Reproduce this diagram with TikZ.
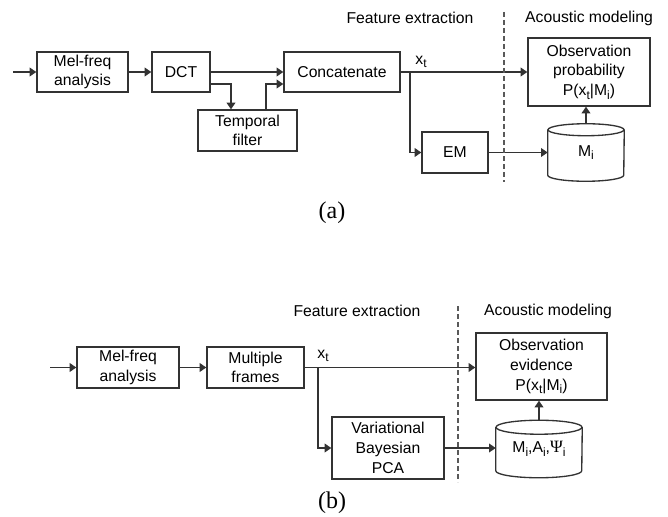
\documentclass[tikz,border=0pt]{standalone}
\usepackage{fontspec}
\setmainfont{Liberation Sans}
\newfontfamily\capfont{Liberation Serif}
\usetikzlibrary{arrows.meta,calc}
\newcommand\sbs[1]{\raisebox{-0.45ex}{\fontsize{9pt}{9pt}\selectfont #1}}
\def\u{0.75pt}
\tikzset{
  lin/.style={draw=black!80, line width=1pt},
  arr/.style={lin, -{Triangle[length=5pt,width=6.5pt]}},
  box/.style={lin, rectangle, inner sep=0pt, align=center, font=\fontsize{11.8pt}{14.8pt}\selectfont},
  plain/.style={inner sep=0pt, font=\fontsize{11.8pt}{14.8pt}\selectfont, align=center},
  captext/.style={inner sep=0pt, font=\capfont\fontsize{18pt}{18pt}\selectfont},
  sep/.style={draw=black!65, line width=0.8pt, dash pattern=on 3.5pt off 2.5pt}
}
\begin{document}
\begin{tikzpicture}[x=0.75pt,y=-0.75pt]
\useasboundingbox (0,0) rectangle (668,517);
% ---------- (a) ----------
\node[box, minimum width=91*\u, minimum height=40*\u] (mela) at (82.5,72) {Mel-freq\\analysis};
\node[box, minimum width=58*\u, minimum height=40*\u] (dct) at (181,72) {DCT};
\node[box, minimum width=116*\u, minimum height=40*\u] (conc) at (342,72) {Concatenate};
\node[box, minimum width=99*\u, minimum height=41*\u] (temp) at (247.5,130.5) {Temporal\\filter};
\node[box, minimum width=122*\u, minimum height=68*\u] (obsa) at (589,72) {Observation\\probability\\P(x\sbs{t}|M\sbs{i})};
\node[box, minimum width=66*\u, minimum height=41*\u] (em) at (455,152.5) {EM};
\node[plain, minimum width=76*\u, minimum height=57*\u] (cyla) at (586,152.5) {M\sbs{i}};
\draw[lin] ([yshift=-6*\u]cyla.north west) -- ([yshift=6*\u]cyla.south west)
  arc[start angle=180, end angle=360, x radius=38*\u, y radius=6*\u]
  -- ([yshift=-6*\u]cyla.north east);
\draw[lin] ([yshift=-6*\u]cyla.north) ellipse[x radius=38*\u, y radius=6*\u];
\coordinate (ina) at (13,72);
\coordinate (ba) at (410,72);
\draw[arr] (ina) -- (mela.west);
\draw[arr] (mela.east) -- (dct.west);
\draw[arr] (dct.east) -- (conc.west);
\draw[arr] ([yshift=-12*\u]dct.east) -| ([xshift=-16.5*\u]temp.north);
\draw[arr] ([xshift=18.5*\u]temp.north) |- ([yshift=-12*\u]conc.west);
\draw[arr] (conc.east) -- (obsa.west);
\node[plain] (xta) at (421,62) {x\sbs{t}};
\draw[arr] (ba) |- (em.west);
\draw[arr] (em.east) -- (cyla.west);
\draw[arr] (cyla.north) -- (cyla.north |- obsa.south);
\coordinate (sa1) at (504,12);
\coordinate (sa2) at (504,182);
\draw[sep] (sa1) -- (sa2);
\node[plain] (fea) at (410,18) {Feature extraction};
\node[plain] (aca) at (589,18) {Acoustic modeling};
\node[captext] (capa) at (332,213) {(a)};
% ---------- (b) ----------
\node[box, minimum width=102*\u, minimum height=41*\u] (melb) at (128,367.5) {Mel-freq\\analysis};
\node[box, minimum width=97*\u, minimum height=41*\u] (mult) at (255.5,367.5) {Multiple\\frames};
\node[box, minimum width=131*\u, minimum height=67*\u] (obsb) at (541.5,366.5) {Observation\\evidence\\P(x\sbs{t}|M\sbs{i})};
\node[box, minimum width=112*\u, minimum height=62*\u] (vb) at (388,448) {Variational\\Bayesian\\PCA};
\node[plain, minimum width=86*\u, minimum height=57*\u] (cylb) at (539,449) {M\sbs{i},A\sbs{i},{\capfont\fontsize{13pt}{13pt}\selectfont Ψ}\sbs{i}};
\draw[lin] ([yshift=-7*\u]cylb.north west) -- ([yshift=7*\u]cylb.south west)
  arc[start angle=180, end angle=360, x radius=43*\u, y radius=7*\u]
  -- ([yshift=-7*\u]cylb.north east);
\draw[lin] ([yshift=-7*\u]cylb.north) ellipse[x radius=43*\u, y radius=7*\u];
\coordinate (inb) at (50,367.5);
\coordinate (bb) at (318,367.5);
\draw[arr] (inb) -- (melb.west);
\draw[arr] (melb.east) -- (mult.west);
\draw[arr] (mult.east) -- (obsb.west |- mult.east);
\node[plain] (xtb) at (323,356) {x\sbs{t}};
\draw[arr] (bb) |- (vb.west);
\draw[arr] (vb.east) -- (cylb.west |- vb.east);
\draw[arr] (cylb.north) -- (cylb.north |- obsb.south);
\coordinate (sb1) at (458,306);
\coordinate (sb2) at (458,482);
\draw[sep] (sb1) -- (sb2);
\node[plain] (feb) at (357,311) {Feature extraction};
\node[plain] (acb) at (548,311) {Acoustic modeling};
\node[captext] (capb) at (332,503) {(b)};
\end{tikzpicture}
\end{document}
